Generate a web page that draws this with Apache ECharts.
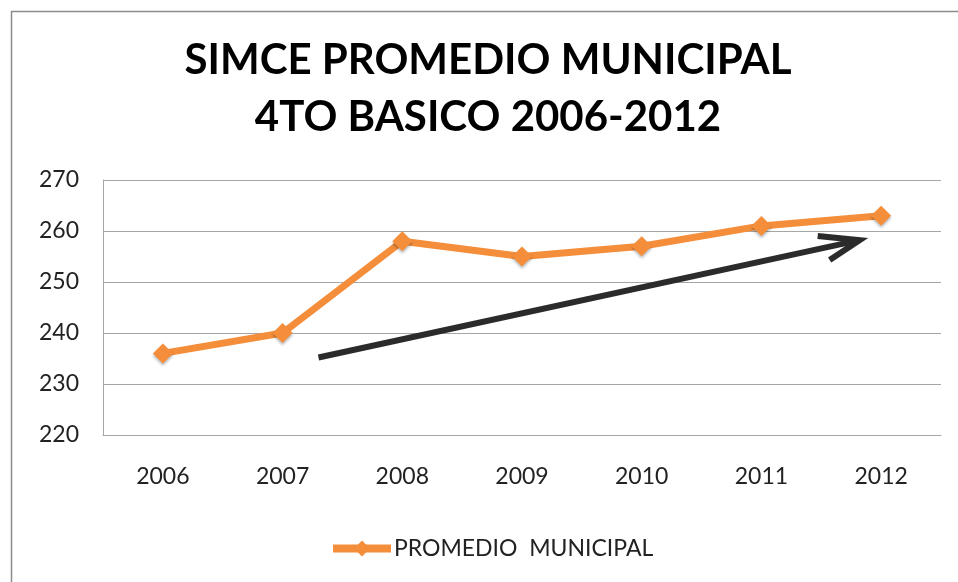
<!DOCTYPE html>
<html><head><meta charset="utf-8">
<script src="https://cdn.jsdelivr.net/npm/echarts@6/dist/echarts.min.js"></script>
<style>html,body{margin:0;padding:0;background:#fff}#c{width:958px;height:582px}</style>
</head><body><div id="c"></div>
<script>
const titleLines = ['SIMCE PROMEDIO MUNICIPAL', '4TO BASICO 2006-2012'];
const categories = ['2006', '2007', '2008', '2009', '2010', '2011', '2012'];
const seriesName = 'PROMEDIO  MUNICIPAL';
const values = [236, 240, 258, 255, 257, 261, 263];
const yTicks = [220, 230, 240, 250, 260, 270];
// hand-drawn trend arrow annotation, in data space (x = category index)
const arrowShaft = [[1.30, 235.2], [5.82, 258.2]];
const arrowHead = [[5.47, 259.0], [5.82, 258.2], [5.57, 254.3]];

const chart = echarts.init(document.getElementById('c'));
const orange = '#f58e3b';
const font = 'Lato, "Open Sans", sans-serif';
chart.setOption({
  animation: false,
  backgroundColor: '#fff',
  graphic: [{
    type: 'rect', left: 9, top: 9, shape: {width: 1000, height: 700},
    style: {fill: 'none', stroke: '#8c8c8c', lineWidth: 1.5}, silent: true
  }, {
    type: 'text', x: 488, y: 32,
    style: {
      text: titleLines.join('\n'), fill: '#000',
      font: 'bold 42px ' + font, lineHeight: 57,
      align: 'center', verticalAlign: 'top'
    }
  }],
  legend: {
    data: [seriesName], left: 324, top: 532,
    itemWidth: 58, itemHeight: 20, itemGap: 4,
    lineStyle: {width: 8},
    textStyle: {fontFamily: font, fontSize: 23, color: '#222', padding: [0, 0, 0, -2]}
  },
  grid: {left: 103, right: 17, top: 180, bottom: 147},
  xAxis: [{
    type: 'category', data: categories, boundaryGap: true,
    axisLine: {show: true, lineStyle: {color: '#a6a6a6', width: 1}},
    axisTick: {show: false},
    axisLabel: {fontFamily: font, fontSize: 23, color: '#222', margin: 30}
  }, {
    type: 'value', min: -0.5, max: 6.5, show: false
  }],
  yAxis: {
    type: 'value', min: yTicks[0], max: yTicks[yTicks.length - 1], interval: 10,
    axisLine: {show: true, onZero: false, lineStyle: {color: '#a6a6a6', width: 1}},
    axisTick: {show: false},
    splitLine: {lineStyle: {color: '#a6a6a6', width: 1}},
    axisLabel: {fontFamily: font, fontSize: 23, color: '#222', margin: 24}
  },
  series: [{
    name: seriesName, type: 'line', data: values,
    symbol: 'diamond', symbolSize: 20,
    lineStyle: {color: orange, width: 7},
    itemStyle: {color: orange, shadowBlur: 3, shadowColor: 'rgba(0,0,0,0.3)', shadowOffsetY: 2},
    z: 3
  }, {
    type: 'line', xAxisIndex: 1, data: arrowShaft, symbol: 'none',
    lineStyle: {color: '#2b2b2b', width: 6}, silent: true, z: 2
  }, {
    type: 'line', xAxisIndex: 1, data: arrowHead, symbol: 'none',
    lineStyle: {color: '#2b2b2b', width: 6, join: 'miter'}, silent: true, z: 2
  }]
});
</script></body></html>
